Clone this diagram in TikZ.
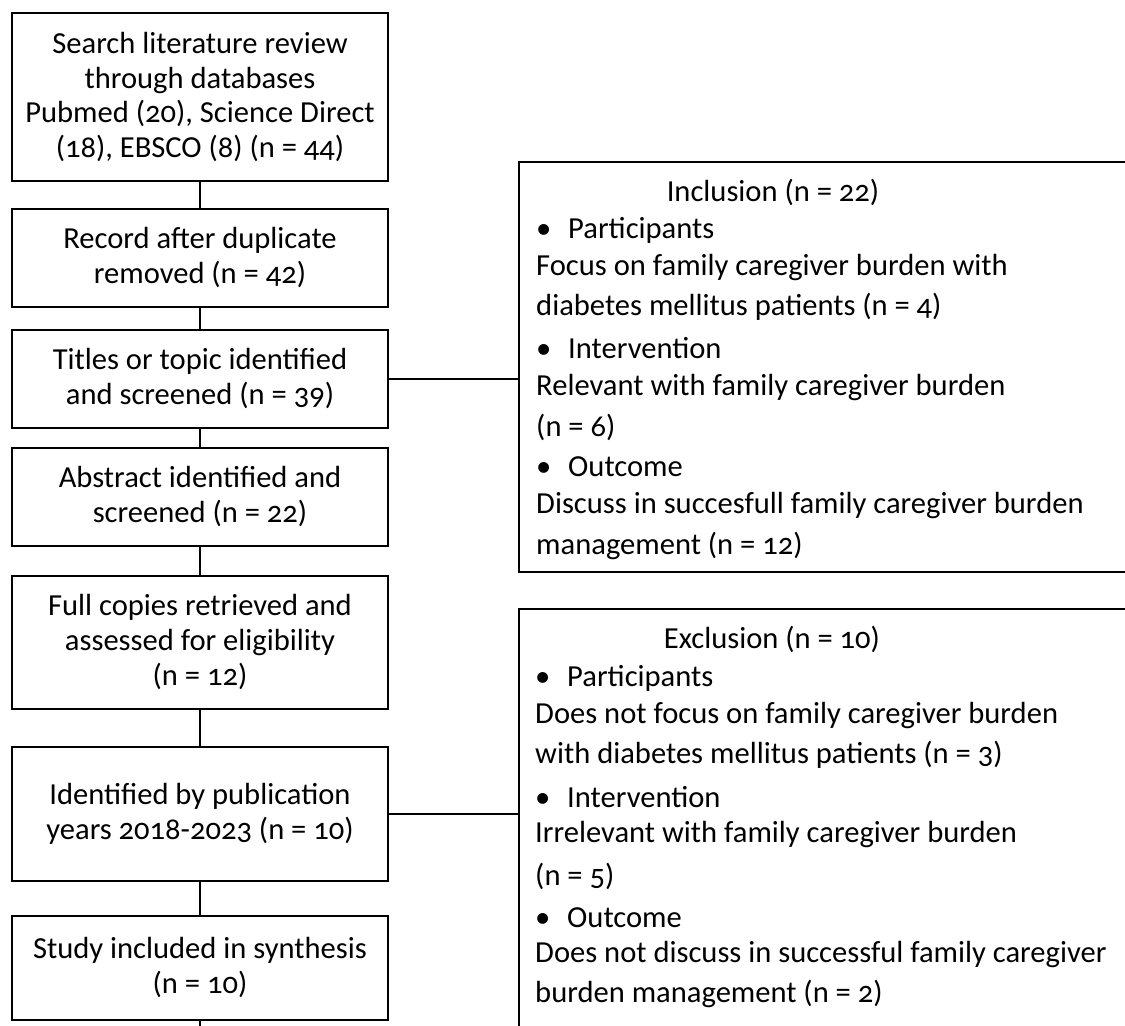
\documentclass[tikz,border=0pt]{standalone}
\usepackage{fontspec}
\setmainfont{Carlito}[Numbers=OldStyle]
\usetikzlibrary{positioning}

\newcommand{\critem}[1]{\makebox[0.64cm][l]{\textbullet}#1}

\begin{document}
\begin{tikzpicture}[x=0.02cm, y=-0.02cm, line width=1.4pt,
        stage/.style={draw, minimum width=7.52cm, text width=7.4cm, align=flush center,
                inner sep=0pt, outer sep=0pt, font=\fontsize{17.4}{19.9}\selectfont},
        criteria/.style={draw, minimum width=12.6cm, outer sep=0pt, anchor=north west},
        critline/.style={anchor=base west, inner sep=0pt, font=\fontsize{17.4}{19}\selectfont}]
        \clip (0,0) rectangle (1125,1025);
        %stages of the search
        \node[stage, minimum height=3.36cm, anchor=north] (search) at (200,13)
              {Search literature review\\ through databases\\ Pubmed (20), Science Direct\\ (18), EBSCO (8) (n = 44)};
        \node[stage, minimum height=1.96cm, below=0.56cm of search] (dup)
              {Record after duplicate\\ removed (n = 42)};
        \node[stage, minimum height=1.96cm, below=0.46cm of dup] (titles)
              {Titles or topic identified\\ and screened (n = 39)};
        \node[stage, minimum height=1.96cm, below=0.40cm of titles] (abstract)
              {Abstract identified and\\ screened (n = 22)};
        \node[stage, minimum height=2.66cm, below=0.60cm of abstract] (full)
              {Full copies retrieved and\\ assessed for eligibility\\ (n = 12)};
        \node[stage, minimum height=2.68cm, below=0.76cm of full] (years)
              {Identified by publication\\ years 2018-2023 (n = 10)};
        \node[stage, minimum height=2.08cm, below=0.70cm of years] (synth)
              {Study included in synthesis\\ (n = 10)};
        \coordinate (tail) at ([yshift=-0.4cm]synth.south);
        \draw (search) -- (dup) -- (titles) -- (abstract) -- (full) -- (years) -- (synth) -- (tail);
        %inclusion and exclusion boxes
        \node[criteria, minimum height=8.2cm] (incl) at (519,162) {};
        \node[criteria, minimum height=9cm] (excl) at (519,609) {};
        \draw (titles.east) -- (titles.east -| incl.west);
        \draw (years.east) -- (years.east -| excl.west);
        %criteria text
        \node[critline, anchor=base] (inclhead) at (773,201) {Inclusion (n = 22)};
        \foreach \y/\txt in {238/\critem{Participants}, 275/Focus on family caregiver burden with,
                315/diabetes mellitus patients (n = 4), 358/\critem{Intervention},
                395/Relevant with family caregiver burden, 436/(n = 6), 476/\critem{Outcome},
                513/Discuss in succesfull family caregiver burden, 554/management (n = 12)}
              \node[critline] at (535,\y) {\txt};
        \node[critline, anchor=base] (exclhead) at (772,648) {Exclusion (n = 10)};
        \foreach \y/\txt in {686/\critem{Participants}, 723/Does not focus on family caregiver burden,
                763/with diabetes mellitus patients (n = 3), 807/\critem{Intervention},
                842/Irrelevant with family caregiver burden, 885/(n = 5), 927/\critem{Outcome},
                962/Does not discuss in successful family caregiver, 1002/burden management (n = 2)}
              \node[critline] at (534,\y) {\txt};
\end{tikzpicture}
\end{document}
